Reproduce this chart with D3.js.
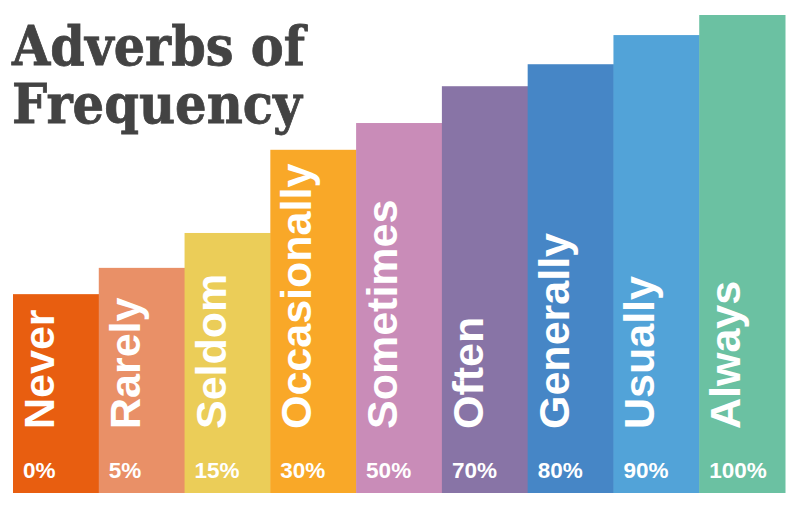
<!DOCTYPE html>
<html>
<head>
<meta charset="utf-8">
<script src="https://cdn.jsdelivr.net/npm/d3@7"></script>
<style>
    html, body { margin: 0; padding: 0; background: #ffffff; }
    svg { display: block; }
</style>
</head>
<body>
<svg id="chart" width="800" height="509"></svg>
<script>
// adverbs, their frequency label and the (visual) height of each step
var adverbs = ["Never", "Rarely", "Seldom", "Occasionally", "Sometimes", "Often", "Generally", "Usually", "Always"];
var percents = ["0%", "5%", "15%", "30%", "50%", "70%", "80%", "90%", "100%"];
var stepLevels = [41.6, 47.1, 54.4, 71.8, 77.4, 85.1, 89.7, 95.8, 100];
var barColors = ["#e85e10", "#e99067", "#ebcd58", "#f9a828", "#c98cb8", "#8874a6", "#4686c6", "#52a3d8", "#6bc1a2"];
var titleLines = ["Adverbs of", "Frequency"];

var svg = d3.select("#chart");

var x = d3.scaleBand()
    .domain(adverbs)
    .range([13, 785])
    .padding(0);

var y = d3.scaleLinear()
    .domain([0, 100])
    .range([493, 15]);

var data = adverbs.map(function (d, i) {
    return {name: d, pct: percents[i], level: stepLevels[i], color: barColors[i]};
});

var bars = svg.append("g").attr("class", "bars")
    .selectAll("g")
    .data(data)
    .enter()
    .append("g");

bars.append("rect")
    .attr("x", function (d) { return x(d.name); })
    .attr("y", function (d) { return y(d.level); })
    .attr("width", x.bandwidth() + 0.5)
    .attr("height", function (d) { return y(0) - y(d.level); })
    .attr("fill", function (d) { return d.color; });

// rotated adverb names, reading bottom to top
bars.append("text")
    .attr("transform", function (d) {
        return "translate(" + (x(d.name) + 41) + ",429) rotate(-90)";
    })
    .attr("text-anchor", "start")
    .attr("fill", "#ffffff")
    .style("font-family", "'Liberation Sans', Arial, sans-serif")
    .style("font-weight", "bold")
    .style("font-size", "43px")
    .text(function (d) { return d.name; });

// percentages along the bottom
bars.append("text")
    .attr("x", function (d) { return x(d.name) + 10; })
    .attr("y", 477.5)
    .attr("fill", "#ffffff")
    .style("font-family", "'Liberation Sans', Arial, sans-serif")
    .style("font-weight", "bold")
    .style("font-size", "22.5px")
    .text(function (d) { return d.pct; });

// title
svg.append("g").attr("class", "title")
    .selectAll("text")
    .data(titleLines)
    .enter()
    .append("text")
    .attr("x", 12)
    .attr("y", function (d, i) { return 65 + i * 58; })
    .attr("textLength", function (d, i) { return i == 0 ? 293 : 290; })
    .attr("lengthAdjust", "spacingAndGlyphs")
    .attr("fill", "#434343")
    .attr("stroke", "#434343")
    .attr("stroke-width", 0.8)
    .style("font-family", "'DejaVu Serif', serif")
    .style("font-weight", "bold")
    .style("font-size", "54px")
    .text(function (d) { return d; });
</script>
</body>
</html>
